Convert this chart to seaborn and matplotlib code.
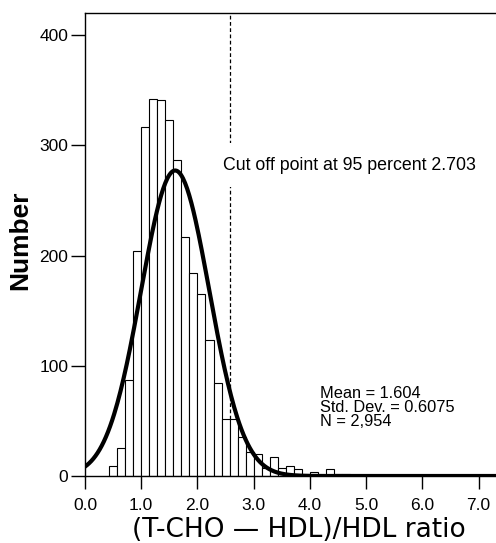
import numpy as np
import pandas as pd
import matplotlib
matplotlib.use('Agg')
import matplotlib.pyplot as plt
import seaborn as sns

# histogram bins (width 1/7, first edge at 3/7)
bin_width = 1 / 7
first_edge = 3 / 7
counts = [9, 25, 87, 204, 317, 342, 341, 323, 287, 217,
          184, 165, 123, 84, 52, 52, 35, 22, 20, 7,
          17, 7, 9, 6, 1, 4, 1, 6, 2, 2]

# fitted normal curve parameters (from the legend text)
mean_val = 1.604
std_val = 0.6075
n_total = 2954

# cut off line: drawn position in the picture and its label
cutoff_pos = 18 / 7
cutoff_label = '2.703'

xticks = [0, 1, 2, 3, 4, 5, 6, 7]
yticks = [0, 100, 200, 300, 400]

edges = first_edge + bin_width * np.arange(len(counts) + 1)
df = pd.DataFrame({'center': (edges[:-1] + edges[1:]) / 2, 'count': counts})

sns.set_style('ticks')
plt.rcParams['font.family'] = ['Liberation Sans', 'DejaVu Sans']
plt.rcParams['text.color'] = 'black'
plt.rcParams['axes.labelcolor'] = 'black'
plt.rcParams['xtick.color'] = 'black'
plt.rcParams['ytick.color'] = 'black'

fig = plt.figure(figsize=(4.96, 5.43), dpi=100)
ax = fig.add_axes([85 / 496, 1 - 476 / 543, 411 / 496, 463 / 543])

sns.histplot(data=df, x='center', weights='count', bins=list(edges), color='white',
             edgecolor='black', linewidth=0.8, alpha=1, ax=ax)

# normal curve scaled to counts per bin
xs = np.linspace(0, 7.4, 400)
ys = n_total * bin_width / (std_val * np.sqrt(2 * np.pi)) * np.exp(-0.5 * ((xs - mean_val) / std_val) ** 2)
sns.lineplot(x=xs, y=ys, color='black', linewidth=3, ax=ax)

ax.plot([cutoff_pos, cutoff_pos], [52, 420], color='black', lw=0.9, ls=(0, (3, 2)))
ax.text(2.45, 282, 'Cut off point at 95 percent ' + cutoff_label, fontsize=12.8,
        va='center', ha='left', bbox=dict(facecolor='white', edgecolor='none', pad=10))

ax.text(4.18, 81.5, 'Mean = %.3f\nStd. Dev. = %.4f\nN = 2,954' % (mean_val, std_val),
        fontsize=11.8, va='top', ha='left', linespacing=0.92)

ax.set_xlim(0, 7.31)
ax.set_ylim(0, 420)
ax.set_xticks(xticks)
ax.set_xticklabels(['%.1f' % t for t in xticks], fontsize=12.5)
ax.set_yticks(yticks)
ax.set_yticklabels([str(t) for t in yticks], fontsize=12.5)
ax.tick_params(axis='x', length=9, width=1, pad=7)
ax.tick_params(axis='y', length=10, width=1, pad=2)

ax.spines['right'].set_visible(False)
for s in ['top', 'left', 'bottom']:
    ax.spines[s].set_linewidth(1)
    ax.spines[s].set_color('black')

ax.set_ylabel('Number', fontsize=19, fontweight='bold')
ax.yaxis.set_label_coords(-0.128, 0.51)
ax.set_xlabel('(T-CHO — HDL)/HDL ratio', fontsize=19, family=['DejaVu Sans'])
ax.xaxis.set_label_coords(0.52, -0.089)

fig.savefig('out.png', dpi=100)
